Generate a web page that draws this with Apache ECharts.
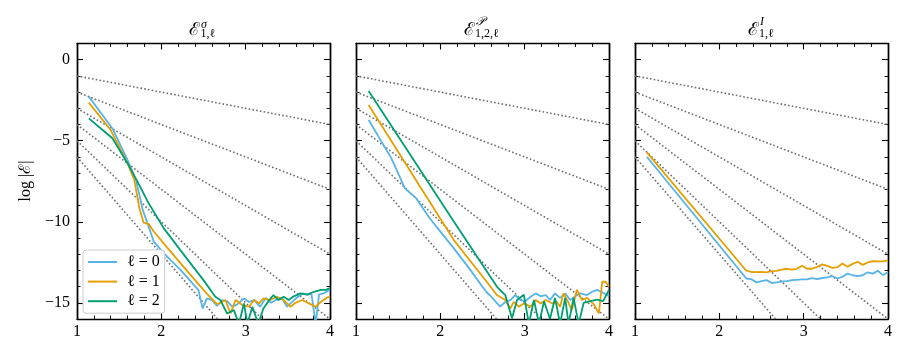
<!DOCTYPE html>
<html>
<head>
<meta charset="utf-8">
<script src="https://cdn.jsdelivr.net/npm/echarts@6/dist/echarts.min.js"></script>
<style>
html, body { margin: 0; padding: 0; background: #fff; }
#main { width: 910px; height: 358px; }
</style>
</head>
<body>
<div id="main"></div>
<script>
// dotted guide lines, given by their ends at x = 1 and x = 4
var guideX = [1, 4];
var guideStart = [-1, -2, -3, -4, -5, -6];
var guideEnd = [-4, -8, -12, -16, -20, -24];

var yMajorTicks = [-15, -10, -5, 0];
var legendNames = ['ℓ = 0', 'ℓ = 1', 'ℓ = 2'];

// panel 1 : E^sigma_{1,l}
var p1x0 = [1.14,1.42,1.60,1.70,1.78,1.85,1.91,2.03,2.23,2.44,2.49,2.54,2.60,2.66,2.72,2.78,2.84,2.90,2.98,3.04,3.10,3.17,3.24,3.30,3.37,3.43,3.49,3.56,3.62,3.68,3.73,3.78,3.83,3.87,3.93,4.00];
var p1y0 = [-2.28,-4.24,-6.19,-7.43,-9.28,-10.30,-11.23,-11.95,-12.98,-14.22,-15.35,-14.73,-14.83,-15.20,-14.83,-14.90,-15.24,-15.10,-14.73,-14.95,-14.83,-15.24,-14.70,-15.00,-14.80,-14.70,-15.24,-14.90,-14.63,-14.42,-14.50,-14.45,-16.30,-14.50,-14.40,-14.20];
var p1x1 = [1.14,1.40,1.60,1.68,1.74,1.79,1.85,1.91,2.07,2.30,2.44,2.56,2.66,2.70,2.76,2.82,2.88,2.96,3.04,3.10,3.16,3.21,3.29,3.37,3.45,3.53,3.59,3.67,3.75,3.83,3.89,3.95,4.00];
var p1y1 = [-2.65,-4.34,-6.40,-7.43,-9.17,-10.06,-10.14,-10.60,-11.60,-13.00,-13.85,-14.55,-15.08,-15.00,-14.83,-15.66,-14.83,-15.14,-15.24,-14.83,-15.04,-14.73,-14.83,-14.63,-14.83,-15.24,-15.00,-14.83,-15.04,-15.24,-14.95,-14.73,-14.60];
var p1x2 = [1.14,1.42,1.60,1.75,1.85,2.03,2.30,2.50,2.64,2.70,2.78,2.86,2.92,2.98,3.02,3.08,3.15,3.21,3.27,3.33,3.39,3.45,3.51,3.57,3.65,3.73,3.81,3.89,3.95,4.00];
var p1y2 = [-3.62,-4.85,-6.40,-7.85,-8.86,-10.41,-12.26,-13.60,-14.63,-14.83,-15.66,-15.45,-16.30,-15.04,-16.30,-15.24,-16.30,-15.35,-14.90,-14.52,-14.83,-14.63,-14.83,-14.60,-14.42,-14.50,-14.32,-14.20,-14.20,-14.10];

// panel 2 : E^P_{1,2,l}
var p2x0 = [1.15,1.42,1.58,1.715,1.87,1.96,2.16,2.36,2.49,2.55,2.59,2.65,2.71,2.77,2.83,2.89,2.95,3.01,3.07,3.13,3.19,3.25,3.30,3.36,3.42,3.48,3.54,3.60,3.66,3.74,3.80,3.86,3.92,3.98,4.00];
var p2y0 = [-3.72,-6.09,-7.94,-8.56,-9.75,-10.35,-11.64,-13.00,-13.95,-14.35,-14.55,-14.90,-15.24,-14.94,-14.83,-14.52,-14.83,-14.90,-14.63,-14.42,-14.60,-14.52,-14.83,-14.42,-14.70,-14.42,-14.83,-14.60,-14.42,-14.52,-14.32,-14.20,-14.35,-14.52,-14.60];
var p2x1 = [1.15,1.86,2.16,2.55,2.67,2.77,2.83,2.87,2.93,2.99,3.07,3.13,3.19,3.25,3.33,3.38,3.42,3.46,3.51,3.56,3.62,3.68,3.74,3.82,3.88,3.92,3.96,4.00];
var p2y1 = [-2.80,-8.66,-11.13,-13.70,-14.52,-14.83,-15.35,-14.94,-15.24,-15.04,-15.24,-14.83,-15.04,-14.83,-15.04,-14.94,-15.24,-14.42,-14.90,-15.45,-14.20,-14.83,-14.70,-15.10,-15.65,-13.70,-13.70,-14.00];
var p2x2 = [1.15,2.15,2.67,2.77,2.85,2.91,2.99,3.05,3.11,3.17,3.23,3.30,3.36,3.42,3.48,3.52,3.58,3.64,3.70,3.78,3.86,3.93,4.00];
var p2y2 = [-1.93,-9.90,-14.00,-14.52,-15.96,-14.83,-14.50,-16.30,-14.83,-16.30,-14.90,-16.00,-14.70,-16.30,-14.70,-16.30,-14.70,-16.30,-15.00,-14.90,-14.80,-14.90,-14.20];

// panel 3 : E^I_{1,l}
var p3x = [1.14,2.32,2.38,2.44,2.50,2.56,2.62,2.68,2.74,2.80,2.86,2.92,2.98,3.04,3.10,3.16,3.22,3.28,3.34,3.40,3.46,3.52,3.58,3.64,3.70,3.76,3.82,3.88,3.94,4.00];
var p3y0 = [-5.99,-13.50,-13.54,-13.74,-13.66,-13.60,-13.78,-13.74,-13.70,-13.66,-13.60,-13.58,-13.56,-13.56,-13.48,-13.54,-13.47,-13.43,-13.36,-13.50,-13.40,-13.20,-13.30,-13.36,-13.30,-13.12,-13.20,-13.02,-13.29,-13.12];
var p3y1 = [-5.72,-13.02,-13.10,-13.11,-13.09,-13.12,-13.05,-13.03,-12.95,-12.90,-12.96,-12.90,-12.72,-12.90,-12.90,-12.78,-12.63,-12.72,-12.84,-12.80,-12.58,-12.78,-12.60,-12.47,-12.66,-12.51,-12.43,-12.44,-12.44,-12.38];

var colors = ['#56B4E9', '#E69F00', '#009E73'];
var serif = "'Liberation Serif', 'DejaVu Serif', serif";

var chartDom = document.getElementById('main');
var myChart = echarts.init(chartDom);

var grids = [
    {left: 77, top: 43.5, width: 253, height: 275.5},
    {left: 356, top: 43.5, width: 253, height: 275.5},
    {left: 635, top: 43.5, width: 253, height: 275.5}
];

var frameLine = {show: true, onZero: false, lineStyle: {color: '#000', width: 1.4}};

var xAxes = [];
var yAxes = [];
grids.forEach(function (g, i) {
    ['bottom', 'top'].forEach(function (pos) {
        xAxes.push({
            gridIndex: i, type: 'value', min: 1, max: 4, interval: 1, position: pos,
            axisLine: frameLine,
            axisTick: {inside: true, length: 6, lineStyle: {color: '#000', width: 1.1}},
            minorTick: {show: true, splitNumber: 5, length: 3.5, lineStyle: {color: '#000', width: 0.9}},
            axisLabel: {show: pos === 'bottom', color: '#000', fontFamily: serif, fontSize: 16, margin: 5},
            splitLine: {show: false}
        });
    });
    ['left', 'right'].forEach(function (pos) {
        // minor ticks every 1
        yAxes.push({
            gridIndex: i, type: 'value', min: -16, max: 1, interval: 1, position: pos,
            axisLine: frameLine,
            axisTick: {inside: true, length: 3.5, lineStyle: {color: '#000', width: 0.9}},
            axisLabel: {show: false},
            splitLine: {show: false}
        });
        // major ticks + labels
        yAxes.push({
            gridIndex: i, type: 'value', min: -16, max: 1, position: pos,
            axisLine: frameLine,
            axisTick: {inside: true, length: 6, customValues: yMajorTicks, lineStyle: {color: '#000', width: 1.1}},
            axisLabel: {
                show: i === 0 && pos === 'left', customValues: yMajorTicks,
                color: '#000', fontFamily: serif, fontSize: 16, margin: 7,
                formatter: function (v) { return String(v).replace('-', '\u2212'); }
            },
            splitLine: {show: false}
        });
    });
});

var series = [];
function pairs(xs, ys) {
    return xs.map(function (x, k) { return [x, ys[k]]; });
}
function addCurve(panel, idx, xs, ys) {
    series.push({
        type: 'line', name: legendNames[idx],
        xAxisIndex: 2 * panel, yAxisIndex: 4 * panel,
        data: pairs(xs, ys),
        symbol: 'none', showSymbol: false,
        lineStyle: {color: colors[idx], width: 1.8},
        itemStyle: {color: colors[idx]},
        z: 3
    });
}
grids.forEach(function (g, i) {
    guideStart.forEach(function (s, k) {
        series.push({
            type: 'line', silent: true,
            xAxisIndex: 2 * i, yAxisIndex: 4 * i,
            data: [[guideX[0], s], [guideX[1], guideEnd[k]]],
            symbol: 'none',
            lineStyle: {color: '#6e6e6e', width: 1.6, type: [1.6, 2.2]},
            z: 1
        });
    });
});
addCurve(0, 0, p1x0, p1y0);
addCurve(0, 1, p1x1, p1y1);
addCurve(0, 2, p1x2, p1y2);
addCurve(1, 0, p2x0, p2y0);
addCurve(1, 1, p2x1, p2y1);
addCurve(1, 2, p2x2, p2y2);
addCurve(2, 0, p3x, p3y0);
addCurve(2, 1, p3x, p3y1);

function txt(x, y, s, size, extra) {
    var style = {text: s, fill: '#000', fontSize: size, fontFamily: serif, align: 'left', verticalAlign: 'middle'};
    for (var k in extra) style[k] = extra[k];
    return {type: 'text', x: x, y: y, style: style, z: 10};
}

var option = {
    animation: false,
    backgroundColor: '#fff',
    grid: grids,
    xAxis: xAxes,
    yAxis: yAxes,
    legend: {
        data: legendNames,
        orient: 'vertical', left: 83, top: 250,
        icon: 'rect', itemWidth: 29, itemHeight: 2, itemGap: 3.6,
        padding: [4, 5, 4, 5],
        backgroundColor: 'rgba(255,255,255,0.9)',
        borderColor: '#cccccc', borderWidth: 1, borderRadius: 3,
        textStyle: {fontFamily: serif, fontSize: 16, color: '#000', lineHeight: 16, padding: [0, 0, 0, 5]}
    },
    graphic: [
        txt(189, 30, 'ℰ', 18, {fontFamily: "'DejaVu Serif', serif"}),
        txt(201, 25, 'σ', 12, {fontStyle: 'italic'}),
        txt(200.5, 34, '1,ℓ', 12),
        txt(463.5, 30, 'ℰ', 18, {fontFamily: "'DejaVu Serif', serif"}),
        txt(476, 21.5, '𝒫', 12, {fontStyle: 'italic'}),
        txt(475, 34, '1,2,ℓ', 12),
        txt(747.5, 30, 'ℰ', 18, {fontFamily: "'DejaVu Serif', serif"}),
        txt(760, 21.5, 'I', 12, {fontStyle: 'italic'}),
        txt(759, 34, '1,ℓ', 12),
        {type: 'text', x: 26, y: 181, rotation: Math.PI / 2, z: 10,
         style: {text: 'log |ℰ|', fill: '#000', fontSize: 16, fontFamily: serif, align: 'center', verticalAlign: 'middle'}}
    ],
    series: series
};

myChart.setOption(option);
</script>
</body>
</html>
